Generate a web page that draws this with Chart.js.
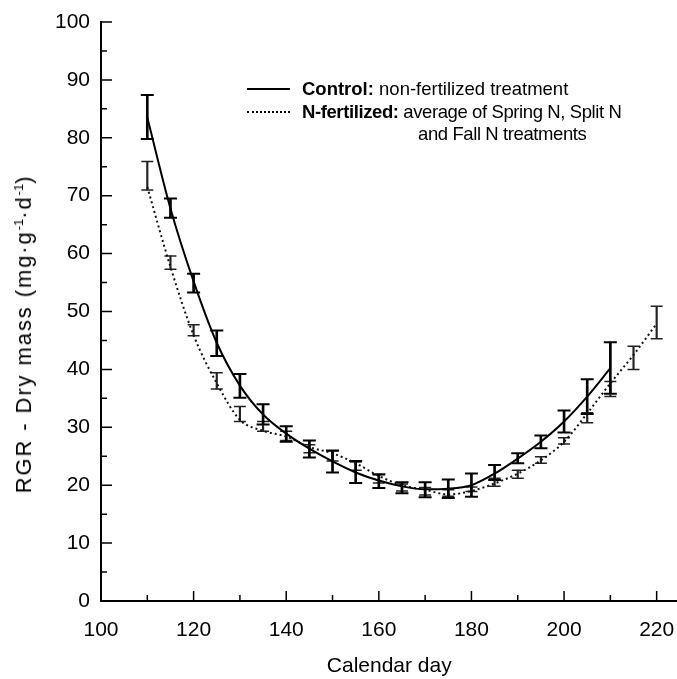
<!DOCTYPE html>
<html>
<head>
<meta charset="utf-8">
<script src="https://cdn.jsdelivr.net/npm/chart.js@4.4.0/dist/chart.umd.min.js"></script>
<style>
  html, body { margin: 0; padding: 0; background: #fff; overflow: hidden; }
  #wrap { position: relative; width: 677px; height: 679px; overflow: hidden; }
  #legend { position: absolute; left: 0; top: 0; font-family: "Liberation Sans", Arial, sans-serif; font-size: 18.5px; color: #000; }
  #legend .row { position: absolute; white-space: nowrap; line-height: 20px; }
  #legend .tight { letter-spacing: -0.4px; }
  #legend .sample { position: absolute; width: 43px; height: 0; }
  #ytitle { position: absolute; left: 24px; top: 334px; transform: translate(-50%, -50%) rotate(-90deg);
            font-family: "Liberation Sans", Arial, sans-serif; font-size: 22px; letter-spacing: 1.9px; white-space: nowrap; color: #000; }
  #ytitle sup { font-size: 13px; vertical-align: 8px; line-height: 0; letter-spacing: 0; }
</style>
</head>
<body>
<div id="wrap">
  <!-- canvas a bit wider than the window so the x axis runs to the right edge -->
  <canvas id="chart_rgr" width="686" height="679"></canvas>
  <div id="ytitle">RGR - Dry mass (mg·g<sup>-1</sup>·d<sup>-1</sup>)</div>
  <div id="legend">
    <span class="sample" style="left:247px; top:88px; border-top:2px solid #000;"></span>
    <div class="row" style="left:302px; top:79px;"><b>Control:</b> non-fertilized treatment</div>
    <span class="sample" style="left:247px; top:111px; border-top:2px dotted #000;"></span>
    <div class="row tight" style="left:302px; top:102px;"><b>N-fertilized:</b> average of Spring N, Split N</div>
    <div class="row tight" style="left:418px; top:124px;">and Fall N treatments</div>
  </div>
</div>
<script>
// calendar days
var days = [110, 115, 120, 125, 130, 135, 140, 145, 150, 155, 160, 165, 170, 175, 180, 185, 190, 195, 200, 205, 210, 215, 220];
var controlDays = days.slice(0, 21);

// control (non-fertilized): fitted curve and error bar limits
var controlFit = [83.5, 67.8, 55.2, 44.6, 37.2, 32.2, 28.9, 26.3, 24.1, 22.2, 20.8, 19.8, 19.3, 19.4, 20.0, 22.0, 24.6, 27.5, 31.0, 35.3, 40.2];
var controlLow = [79.8, 66.2, 53.3, 42.3, 35.1, 30.5, 27.5, 24.8, 22.2, 20.4, 19.5, 18.6, 17.9, 17.8, 18.0, 20.9, 23.8, 26.4, 29.1, 32.3, 35.8];
var controlHigh = [87.4, 69.5, 56.5, 46.7, 39.2, 34.0, 30.2, 27.7, 26.0, 24.2, 21.9, 20.5, 20.5, 21.0, 22.0, 23.5, 25.5, 28.6, 32.9, 38.3, 44.7];

// N-fertilized average: fitted curve and error bar limits
var nFit = [71.5, 57.7, 45.9, 37.6, 31.3, 29.4, 28.4, 26.6, 25.5, 23.8, 21.6, 20.0, 19.2, 18.4, 19.0, 20.3, 22.0, 24.3, 27.5, 32.4, 37.6, 42.5, 47.9];
var nLow = [71.0, 57.3, 45.8, 36.6, 31.0, 29.3, 27.7, 25.6, 24.2, 22.6, 20.4, 19.0, 18.3, 18.1, 18.9, 19.8, 21.2, 23.8, 27.1, 30.8, 35.3, 40.0, 45.3];
var nHigh = [75.9, 59.6, 47.7, 39.4, 33.6, 31.0, 29.3, 27.0, 25.9, 24.0, 21.8, 20.2, 19.6, 19.2, 19.7, 21.2, 22.6, 24.9, 28.2, 32.5, 37.9, 44.0, 50.9];

// axis ticks
var xLabelTicks = [100, 120, 140, 160, 180, 200, 220];
var xMarkTicks = [110, 120, 130, 140, 150, 160, 170, 180, 190, 200, 210, 220];
var yLabelTicks = [0, 10, 20, 30, 40, 50, 60, 70, 80, 90, 100];
var yMarkTicks = [5, 10, 15, 20, 25, 30, 35, 40, 45, 50, 55, 60, 65, 70, 75, 80, 85, 90, 95, 100];

function pts(xs, ys) {
    return xs.map(function(x, i) { return { x: x, y: ys[i] }; });
}
function bars(xs, lo, hi) {
    return xs.map(function(x, i) { return { x: x, y: [lo[i], hi[i]] }; });
}

var FONT = "'Liberation Sans', Arial, sans-serif";

// ticks point into the plot, long on labelled values
var innerTicks = {
    id: 'innerTicks',
    afterDraw: function(chart) {
        var ctx = chart.ctx;
        var xs = chart.scales.x, ys = chart.scales.y;
        var area = chart.chartArea;
        ctx.save();
        ctx.strokeStyle = '#000';
        ctx.lineWidth = 1.5;
        ctx.beginPath();
        xMarkTicks.forEach(function(v) {
            var px = xs.getPixelForValue(v);
            var len = (v % 20 === 0) ? 10 : 6;
            ctx.moveTo(px, area.bottom);
            ctx.lineTo(px, area.bottom - len);
        });
        yMarkTicks.forEach(function(v) {
            var py = ys.getPixelForValue(v);
            var len = (v % 10 === 0) ? 11 : 6;
            ctx.moveTo(area.left, py);
            ctx.lineTo(area.left + len, py);
        });
        ctx.stroke();
        ctx.restore();
    }
};

var chart_rgr = new Chart(document.getElementById('chart_rgr'), {
    type: 'scatter',
    data: {
        datasets: [
            {
                type: 'line',
                label: 'Control',
                data: pts(controlDays, controlFit),
                borderColor: '#000',
                borderWidth: 2,
                pointRadius: 0,
                cubicInterpolationMode: 'monotone',
                fill: false
            },
            {
                type: 'line',
                label: 'N-fertilized',
                data: pts(days, nFit),
                borderColor: '#111',
                borderWidth: 2,
                borderDash: [2, 3],
                pointRadius: 0,
                cubicInterpolationMode: 'monotone',
                fill: false
            },
            {
                type: 'bar',
                data: bars(controlDays, controlLow, controlHigh),
                backgroundColor: '#000',
                barThickness: 2,
                grouped: false
            },
            {
                type: 'bar',
                data: bars(days, nLow, nHigh),
                backgroundColor: '#222',
                barThickness: 1.5,
                grouped: false
            },
            {
                type: 'scatter',
                data: pts(controlDays, controlLow).concat(pts(controlDays, controlHigh)),
                pointStyle: 'line',
                pointRadius: 6.5,
                borderColor: '#000',
                borderWidth: 2
            },
            {
                type: 'scatter',
                data: pts(days, nLow).concat(pts(days, nHigh)),
                pointStyle: 'line',
                pointRadius: 6,
                borderColor: '#222',
                borderWidth: 1.5
            }
        ]
    },
    options: {
        animation: false,
        responsive: false,
        layout: { padding: { top: 22, right: 0, bottom: 0, left: 0 } },
        plugins: {
            legend: { display: false },
            tooltip: { enabled: false }
        },
        scales: {
            x: {
                type: 'linear',
                min: 100,
                max: 224.5,
                offset: false,
                afterFit: function(s) { s.height = 78; s.paddingLeft = 0; s.paddingRight = 0; },
                afterBuildTicks: function(s) { s.ticks = xLabelTicks.map(function(v) { return { value: v }; }); },
                grid: { display: false, drawTicks: true, tickLength: 17, tickColor: 'rgba(0,0,0,0)' },
                border: { display: true, color: '#000', width: 2 },
                ticks: { color: '#000', font: { family: FONT, size: 21 }, padding: 0, maxRotation: 0 },
                title: { display: true, text: 'Calendar day', color: '#000', font: { family: FONT, size: 21 }, padding: { top: 0, bottom: 0 } }
            },
            y: {
                type: 'linear',
                min: 0,
                max: 100,
                afterFit: function(s) { s.width = 101; s.paddingTop = 0; s.paddingBottom = 0; },
                afterBuildTicks: function(s) { s.ticks = yLabelTicks.map(function(v) { return { value: v }; }); },
                grid: { display: false, drawTicks: false },
                border: { display: true, color: '#000', width: 2 },
                ticks: { color: '#000', font: { family: FONT, size: 21 }, padding: 11 },
                title: { display: false }
            }
        }
    },
    plugins: [innerTicks]
});
</script>
</body>
</html>
